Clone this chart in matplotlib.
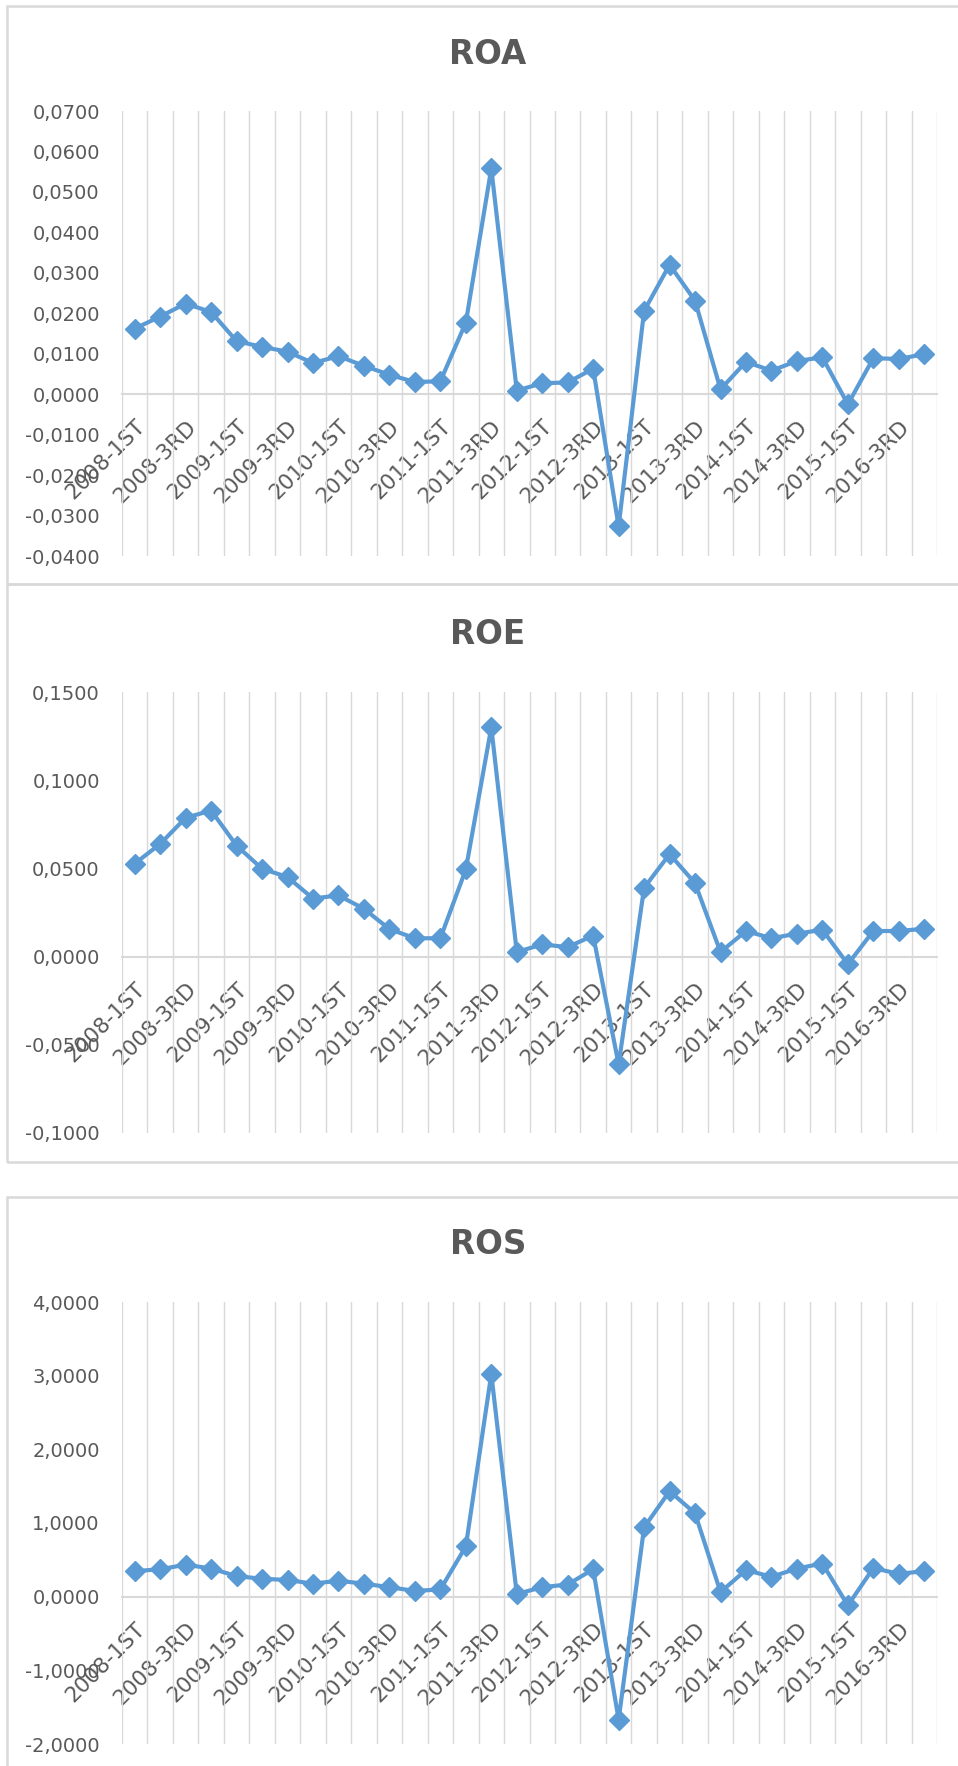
import numpy as np
from matplotlib import pyplot as plt
from matplotlib.patches import Rectangle

W, H = 958, 1766

# every second quarter is labelled on the category axis
labels = ['2008-1ST', '2008-3RD', '2009-1ST', '2009-3RD', '2010-1ST', '2010-3RD',
          '2011-1ST', '2011-3RD', '2012-1ST', '2012-3RD', '2013-1ST', '2013-3RD',
          '2014-1ST', '2014-3RD', '2015-1ST', '2016-3RD']

roa = [0.0162, 0.0192, 0.0224, 0.0203, 0.0131, 0.0117, 0.0105, 0.0077,
       0.0094, 0.0070, 0.0048, 0.0030, 0.0032, 0.0177, 0.0558, 0.0009,
       0.0027, 0.0029, 0.0063, -0.0327, 0.0206, 0.0320, 0.0231, 0.0012,
       0.0080, 0.0058, 0.0082, 0.0091, -0.0025, 0.0089, 0.0087, 0.0099]

roe = [0.0527, 0.0639, 0.0787, 0.0828, 0.0629, 0.0498, 0.0451, 0.0329,
       0.0347, 0.0271, 0.0156, 0.0104, 0.0104, 0.0494, 0.1300, 0.0026,
       0.0069, 0.0054, 0.0119, -0.0611, 0.0390, 0.0581, 0.0416, 0.0026,
       0.0145, 0.0104, 0.0130, 0.0152, -0.0043, 0.0145, 0.0145, 0.0158]

ros = [0.346, 0.372, 0.434, 0.382, 0.279, 0.243, 0.227, 0.176,
       0.217, 0.176, 0.129, 0.078, 0.098, 0.682, 3.023, 0.036,
       0.129, 0.165, 0.372, -1.669, 0.941, 1.432, 1.132, 0.062,
       0.362, 0.269, 0.382, 0.450, -0.119, 0.388, 0.310, 0.346]

BLUE = '#5B9BD5'
GRID = '#D9D9D9'
TEXT = '#595959'


def fx(px):
    return px / W


def fy(px):
    return 1 - px / H


def draw_panel(fig, title, values, yticks, box, plot_top, plot_bottom, title_y):
    # outer chart border
    x0, y0, y1 = box
    fig.patches.append(Rectangle((fx(x0), fy(y1)), fx(W + 20 - x0), (y1 - y0) / H,
                                 transform=fig.transFigure, fill=False,
                                 edgecolor=GRID, linewidth=1.8))
    fig.text(fx(488), fy(title_y), title, ha='center', va='center',
             fontsize=23.5, fontweight='bold', color=TEXT)

    ax = fig.add_axes([fx(122), fy(plot_bottom), fx(937 - 122), (plot_bottom - plot_top) / H])
    n = len(values)
    x = np.arange(n)
    ax.plot(x, values, color=BLUE, linewidth=3, marker='D', markersize=10,
            markeredgewidth=1, markeredgecolor=BLUE, zorder=3)

    # category axis sits on zero (must be set before the tick labels)
    for s in ['top', 'right', 'left']:
        ax.spines[s].set_visible(False)
    ax.spines['bottom'].set_position(('data', 0))
    ax.spines['bottom'].set_color(GRID)
    ax.spines['bottom'].set_linewidth(1.5)
    ax.spines['bottom'].set_zorder(1)

    ax.set_xlim(-0.5, n - 0.5)
    ax.set_ylim(yticks[0], yticks[-1])
    ax.set_yticks(yticks)
    ax.set_yticklabels([f'{v:.4f}'.replace('.', ',') for v in yticks])

    ax.set_xticks(np.arange(0, n, 2))
    ax.set_xticklabels(labels, rotation=45, ha='right', va='top',
                       rotation_mode='anchor')
    ax.set_xticks(np.arange(-0.5, n, 1), minor=True)
    ax.grid(True, which='minor', axis='x', color=GRID, linewidth=1.0)
    ax.grid(False, which='major')

    ax.tick_params(axis='y', length=0, pad=16, labelsize=14, labelcolor=TEXT)
    ax.tick_params(axis='x', which='both', length=0, pad=16, labelsize=15.5, labelcolor=TEXT)
    ax.set_facecolor('none')
    return ax


def main():
    fig = plt.figure(figsize=(W / 100, H / 100), dpi=100)

    draw_panel(fig, 'ROA', roa, np.arange(-0.04, 0.0701, 0.01),
               (7, 5.7, 583.7), 111, 556, 54)
    draw_panel(fig, 'ROE', roe, np.arange(-0.10, 0.1501, 0.05),
               (7, 583.7, 1161.7), 692, 1133, 635)
    draw_panel(fig, 'ROS', ros, np.arange(-2.0, 4.01, 1.0),
               (7, 1197, H + 20), 1302, 1744, 1245)

    fig.savefig('out.png', dpi=100)


if __name__ == '__main__':
    main()
